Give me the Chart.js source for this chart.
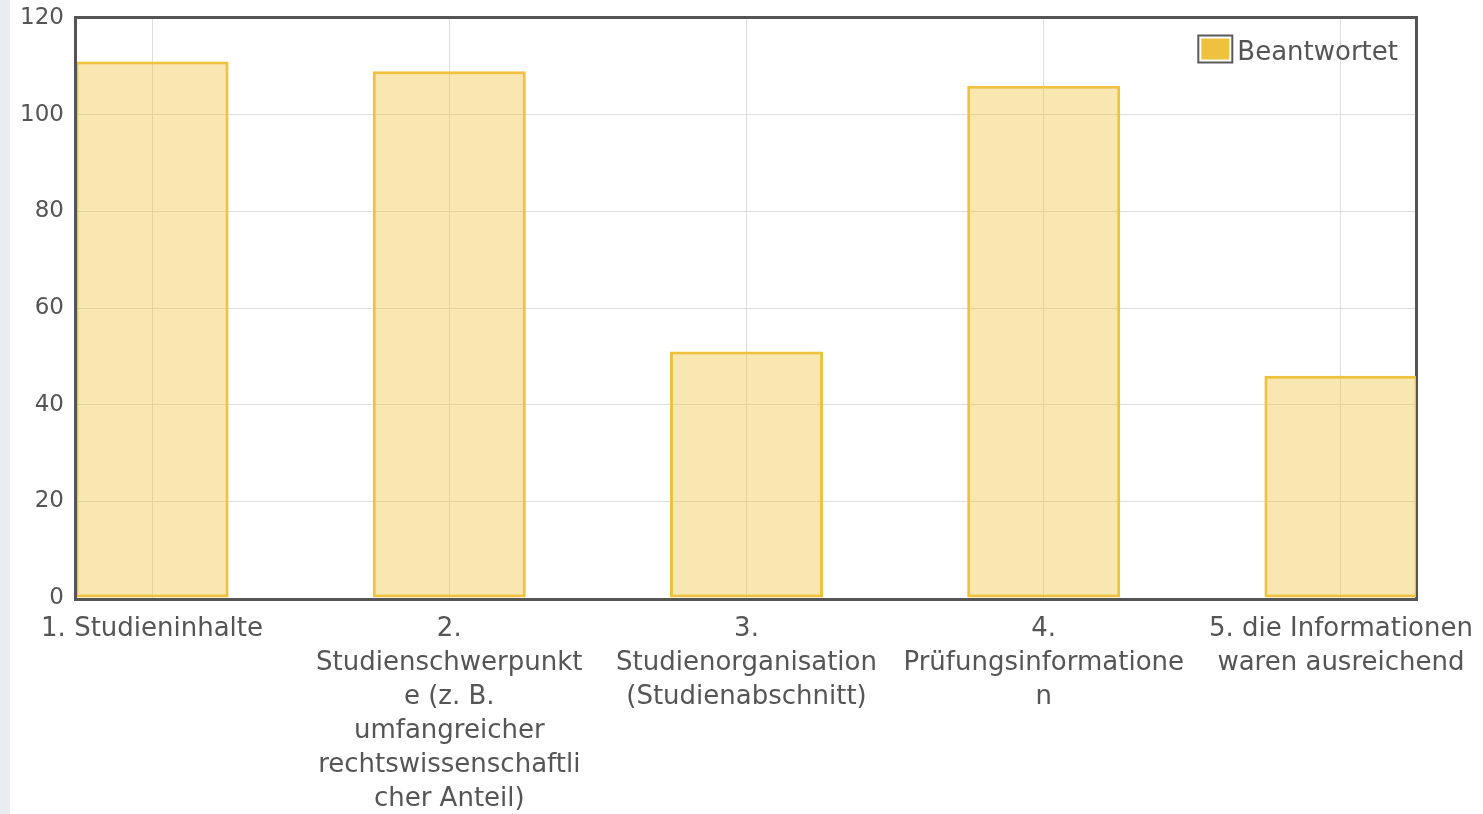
<!DOCTYPE html>
<html>
<head>
<meta charset="utf-8">
<script src="https://cdn.jsdelivr.net/npm/chart.js@4/dist/chart.umd.min.js"></script>
<style>
  html, body { margin: 0; padding: 0; }
  body { background: linear-gradient(to right, #e9edf1 0, #e9edf1 10px, #ffffff 10px); width: 1483px; height: 814px; overflow: hidden; }
  canvas { display: block; }
</style>
</head>
<body>
<canvas id="myChart" width="1483" height="814"></canvas>
<script>
'use strict';

// categories (already wrapped like the original)
var categories = [
  ['1. Studieninhalte'],
  ['2.', 'Studienschwerpunkt', 'e (z. B.', 'umfangreicher', 'rechtswissenschaftli', 'cher Anteil)'],
  ['3.', 'Studienorganisation', '(Studienabschnitt)'],
  ['4.', 'Prüfungsinformatione', 'n'],
  ['5. die Informationen', 'waren ausreichend']
];
var answered = [111, 109, 51, 106, 46];
var seriesName = 'Beantwortet';
var yTicks = [0, 20, 40, 60, 80, 100, 120];

const TEXT_COLOR = '#555555';
const BAR_COLOR = '#EEC23E';
const FONT = 'DejaVu Sans';

// frame round the plot area
var frameBox = {
  id: 'frameBox',
  beforeDatasetsDraw: function (chart) {
    var ca = chart.chartArea;
    var ctx = chart.ctx;
    ctx.save();
    ctx.strokeStyle = '#555555';
    ctx.lineWidth = 3;
    ctx.strokeRect(ca.left - 1.5, ca.top - 0.5, ca.right - ca.left + 2, ca.bottom - ca.top + 2);
    ctx.restore();
  }
};

// legend sits inside the plot, top right
var innerLegend = {
  id: 'innerLegend',
  afterDraw: function (chart) {
    var ca = chart.chartArea;
    var ctx = chart.ctx;
    var ds = chart.data.datasets[0];
    ctx.save();
    ctx.font = '26px "' + FONT + '"';
    var w = ctx.measureText(ds.label).width;
    var textX = ca.right - 18 - w;
    var cy = ca.top + 31;
    var boxW = 34, boxH = 27;
    var boxX = textX - 5 - boxW;
    var boxY = cy - boxH / 2;
    ctx.fillStyle = '#ffffff';
    ctx.fillRect(boxX, boxY, boxW, boxH);
    ctx.strokeStyle = '#5a5a5a';
    ctx.lineWidth = 2;
    ctx.strokeRect(boxX, boxY, boxW, boxH);
    ctx.fillStyle = ds.borderColor;
    ctx.fillRect(boxX + 3, boxY + 3, boxW - 6, boxH - 6);
    ctx.fillStyle = TEXT_COLOR;
    ctx.textBaseline = 'middle';
    ctx.textAlign = 'left';
    ctx.fillText(ds.label, textX, cy + 4);
    ctx.restore();
  }
};

var ctx = document.getElementById('myChart').getContext('2d');
var barChart = new Chart(ctx, {
  type: 'bar',
  data: {
    datasets: [{
      label: seriesName,
      data: answered.map(function (v, i) { return { x: i, y: v }; }),
      backgroundColor: 'rgba(240, 195, 60, 0.4)',
      borderColor: BAR_COLOR,
      borderWidth: 3,
      borderSkipped: false,
      barPercentage: 0.515,
      categoryPercentage: 1
    }]
  },
  options: {
    responsive: false,
    animation: false,
    devicePixelRatio: 1,
    layout: { padding: { left: 0, top: 18, right: 67, bottom: 0 } },
    plugins: {
      legend: { display: false },
      tooltip: { enabled: false }
    },
    scales: {
      x: {
        type: 'linear',
        offset: false,
        min: -0.2525,
        max: categories.length - 1 + 0.2525,
        border: { display: false },
        grid: { color: '#dddddd', lineWidth: 1, drawTicks: false, offset: false },
        ticks: {
          stepSize: 1,
          includeBounds: false,
          autoSkip: false,
          maxRotation: 0,
          minRotation: 0,
          padding: 14,
          color: TEXT_COLOR,
          font: { family: FONT, size: 26, lineHeight: 34 / 26 },
          callback: function (value) {
            return categories[value] || '';
          }
        },
        afterFit: function (scale) {
          scale.height = 814 - 598;
          scale.paddingLeft = 0;
          scale.paddingRight = 0;
        }
      },
      y: {
        min: yTicks[0],
        max: yTicks[yTicks.length - 1],
        border: { display: false },
        grid: { color: '#dddddd', lineWidth: 1, drawTicks: false },
        ticks: {
          stepSize: 20,
          padding: 13,
          color: TEXT_COLOR,
          font: { family: FONT, size: 23 }
        },
        afterFit: function (scale) {
          scale.width = 77;
          scale.paddingTop = 0;
          scale.paddingBottom = 0;
        }
      }
    }
  },
  plugins: [frameBox, innerLegend]
});
</script>
</body>
</html>
